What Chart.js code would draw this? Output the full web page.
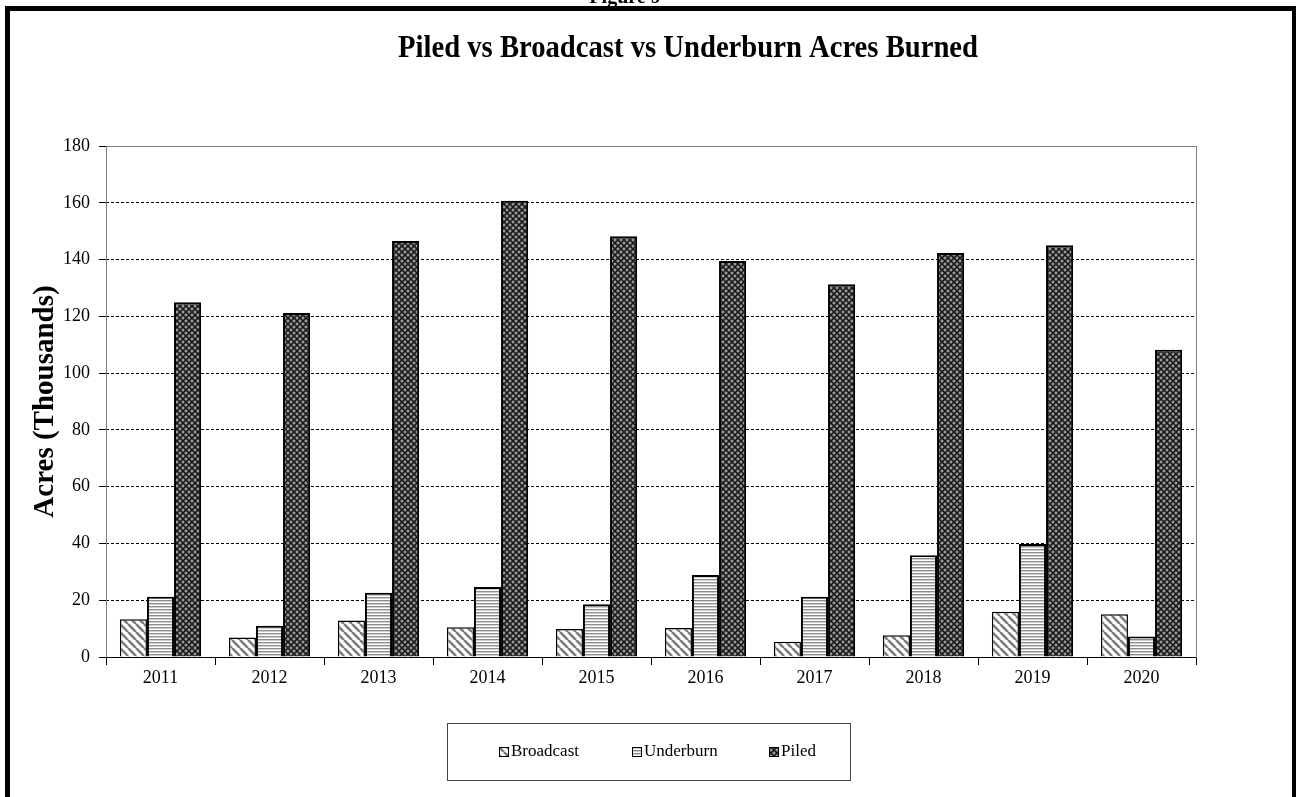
<!DOCTYPE html>
<html>
<head>
<meta charset="utf-8">
<script src="https://cdn.jsdelivr.net/npm/chart.js@4.4.1/dist/chart.umd.min.js"></script>
<style>
	html, body { margin: 0; padding: 0; background: #fff; overflow: hidden; }
	#wrap { position: relative; width: 1296px; height: 797px; }
</style>
</head>
<body>
<div id="wrap"><canvas id="chart" width="1296" height="797"></canvas></div>
<script>
const years = ['2011', '2012', '2013', '2014', '2015', '2016', '2017', '2018', '2019', '2020'];
const broadcast = [13.3, 6.9, 12.9, 10.5, 9.9, 10.2, 5.4, 7.7, 15.9, 15.1];
const underburn = [21.2, 11, 22.6, 24.7, 18.6, 28.9, 21.2, 35.8, 39.8, 7.2];
const piled = [125, 121.2, 146.5, 160.7, 148.2, 139.5, 131.3, 142.3, 145, 108.2];
const yTicks = [0, 20, 40, 60, 80, 100, 120, 140, 160, 180];

const titleText = 'Piled vs Broadcast vs Underburn Acres Burned';
const serif = '"Liberation Serif", "Times New Roman", serif';

function tile(w, h, paint) {
	const c = document.createElement('canvas');
	c.width = w; c.height = h;
	paint(c.getContext('2d'));
	return document.getElementById('chart').getContext('2d').createPattern(c, 'repeat');
}

// broadcast: gray "\" stripes on white
const patBroadcast = tile(8, 8, g => {
	g.fillStyle = '#fff'; g.fillRect(0, 0, 8, 8);
	g.strokeStyle = '#7d7d7d'; g.lineWidth = 2.6;
	for (let i = -1; i <= 1; i++) { g.beginPath(); g.moveTo(i * 8, 0); g.lineTo(i * 8 + 8, 8); g.stroke(); }
});
// underburn: thin horizontal gray lines
const patUnderburn = tile(4, 3, g => {
	g.fillStyle = '#fff'; g.fillRect(0, 0, 4, 3);
	g.fillStyle = '#8e8e8e'; g.fillRect(0, 0, 4, 1);
	g.fillStyle = '#cfcfcf'; g.fillRect(0, 1, 4, 1);
});
// piled: dark crosshatch with light dots
const patPiled = tile(6, 6, g => {
	g.fillStyle = '#666'; g.fillRect(0, 0, 6, 6);
	g.strokeStyle = '#151515'; g.lineWidth = 1.2;
	g.beginPath(); g.moveTo(0, 0); g.lineTo(6, 6); g.moveTo(6, 0); g.lineTo(0, 6); g.stroke();
	g.fillStyle = '#c8c8c8';
	g.fillRect(2.5, 0, 1, 1); g.fillRect(0, 2.5, 1, 1); g.fillRect(5, 2.5, 1, 1); g.fillRect(2.5, 5, 1, 1);
});

const sheet = {
	id: 'sheet',
	beforeDraw(chart) {
		const ctx = chart.ctx;
		ctx.save();
		ctx.fillStyle = '#fff';
		ctx.fillRect(0, 0, chart.width, chart.height);
		// page frame
		ctx.fillStyle = '#000';
		ctx.fillRect(5, 6, 1288, 5);
		ctx.fillRect(5, 6, 5, 791);
		ctx.fillRect(1292, 6, 4, 791);
		// cut-off caption above the frame
		ctx.font = 'bold 20px ' + serif;
		ctx.textAlign = 'center';
		ctx.textBaseline = 'alphabetic';
		ctx.fillText('Figure 9', 625, 3);
		// title, squeezed like the original
		ctx.font = 'bold 32px ' + serif;
		const w = ctx.measureText(titleText).width;
		ctx.translate(688, 57);
		ctx.scale(580 / w, 1);
		ctx.fillText(titleText, 0, 0);
		ctx.restore();
	},
	beforeDatasetsDraw(chart) {
		const { ctx, chartArea: a } = chart;
		ctx.save();
		ctx.strokeStyle = '#808080';
		ctx.lineWidth = 1;
		ctx.strokeRect(a.left + 0.5, a.top + 0.5, a.right - a.left, a.bottom - a.top);
		ctx.strokeStyle = '#000';
		ctx.beginPath(); ctx.moveTo(a.left, a.bottom + 0.5); ctx.lineTo(a.right, a.bottom + 0.5); ctx.stroke();
		ctx.restore();
	},
	afterDraw(chart) {
		const ctx = chart.ctx;
		ctx.save();
		ctx.strokeStyle = '#444';
		ctx.lineWidth = 1;
		ctx.strokeRect(447.5, 723.5, 403, 57);
		const xs = [499, 632, 769];
		ctx.font = '17px ' + serif;
		ctx.textBaseline = 'middle';
		chart.data.datasets.forEach((ds, i) => {
			ctx.fillStyle = ds.backgroundColor;
			ctx.fillRect(xs[i], 747, 10, 10);
			ctx.strokeStyle = '#000';
			ctx.strokeRect(xs[i] + 0.5, 747.5, 9, 9);
			ctx.fillStyle = '#000';
			ctx.fillText(ds.label, xs[i] + 12, 752);
		});
		ctx.restore();
	}
};

new Chart(document.getElementById('chart'), {
	type: 'bar',
	data: {
		labels: years,
		datasets: [
			{ label: 'Broadcast', data: broadcast, backgroundColor: patBroadcast, borderColor: '#000', borderWidth: 1.5 },
			{ label: 'Underburn', data: underburn, backgroundColor: patUnderburn, borderColor: '#000', borderWidth: 2 },
			{ label: 'Piled', data: piled, backgroundColor: patPiled, borderColor: '#000', borderWidth: 2 }
		]
	},
	plugins: [sheet],
	options: {
		responsive: false,
		animation: false,
		layout: { padding: { left: 20, right: 100, top: 146, bottom: 100 } },
		datasets: { bar: { categoryPercentage: 0.745, barPercentage: 1.0 } },
		plugins: { legend: { display: false }, title: { display: false }, tooltip: { enabled: false } },
		scales: {
			x: {
				offset: true,
				grid: { display: true, offset: true, drawOnChartArea: false, tickLength: 8, color: '#000', tickColor: '#000' },
				border: { display: false },
				ticks: { color: '#000', font: { family: serif, size: 18 }, padding: 2 },
				afterFit: s => { s.height = 40; }
			},
			y: {
				min: 0,
				max: 180,
				afterBuildTicks: s => { s.ticks = yTicks.map(v => ({ value: v })); },
				grid: {
					color: c => (c.tick && (c.tick.value === 0 || c.tick.value === 180)) ? 'rgba(0,0,0,0)' : '#000',
					tickColor: '#000',
					tickLength: 7,
					lineWidth: 1
				},
				border: { display: false, dash: [3, 2] },
				ticks: { color: '#000', font: { family: serif, size: 18 }, padding: 9 },
				title: {
					display: true,
					text: 'Acres (Thousands)',
					color: '#000',
					font: { family: serif, size: 29, weight: 'bold' },
					padding: { top: 8, bottom: 0 }
				},
				afterFit: s => { s.width = 86; }
			}
		}
	}
});
</script>
</body>
</html>
